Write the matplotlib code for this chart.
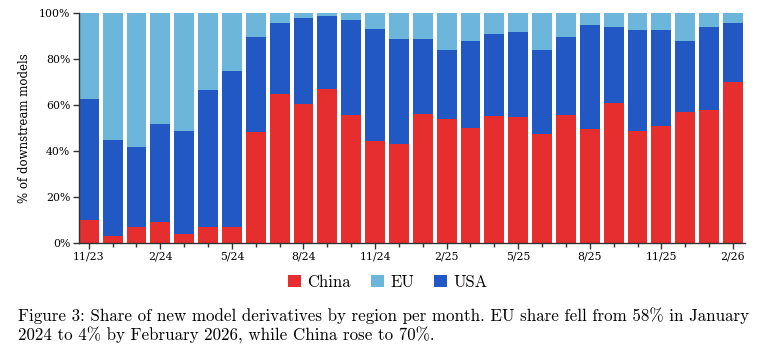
import numpy as np
import matplotlib
matplotlib.use("Agg")
import matplotlib.pyplot as plt
from matplotlib.ticker import PercentFormatter

# monthly share (%) of downstream models, Nov 2023 .. Feb 2026
months = ["11/23", "12/23",
          "1/24", "2/24", "3/24", "4/24", "5/24", "6/24", "7/24", "8/24", "9/24", "10/24", "11/24", "12/24",
          "1/25", "2/25", "3/25", "4/25", "5/25", "6/25", "7/25", "8/25", "9/25", "10/25", "11/25", "12/25",
          "1/26", "2/26"]
china = [10.0, 3.0, 6.8, 9.1, 3.9, 6.8, 6.8, 48.1, 64.6, 60.3, 66.8, 55.5, 44.2, 43.0,
         56.1, 53.8, 50.0, 55.2, 54.6, 47.4, 55.5, 49.4, 60.7, 48.6, 50.9, 57.0, 57.8, 70.0]
usa = [52.5, 41.6, 34.8, 42.5, 44.7, 59.6, 67.8, 41.3, 30.9, 37.4, 31.8, 41.3, 48.7, 45.6,
       32.5, 30.0, 37.7, 35.5, 37.0, 36.4, 33.9, 45.2, 33.1, 43.9, 41.6, 30.7, 36.0, 25.5]
eu = [100 - c - u for c, u in zip(china, usa)]

c_china = "#e62e2e"
c_eu = "#6cb6dc"
c_usa = "#2158c4"

plt.rcParams["axes.unicode_minus"] = False
fig = plt.figure(figsize=(7.68, 3.52), dpi=100)
ax = fig.add_axes([0.1025, 0.31, 0.868, 0.654])

x = np.arange(len(months))
w = 0.83
ax.bar(x, china, w, color=c_china, label="China")
ax.bar(x, usa, w, bottom=china, color=c_usa, label="USA")
ax.bar(x, eu, w, bottom=np.array(china) + np.array(usa), color=c_eu, label="EU")

ax.set_xlim(-0.42, len(months) - 0.48)
ax.set_ylim(0, 100)
ax.yaxis.set_major_formatter(PercentFormatter(decimals=0))
ax.set_yticks([0, 20, 40, 60, 80, 100])
ax.set_xticks(x, minor=True)
ax.set_xticks(x[::3])
ax.set_xticklabels(months[::3])
for lab in ax.get_xticklabels() + ax.get_yticklabels():
    lab.set_family("DejaVu Serif")
    lab.set_fontsize(7.8)
ax.tick_params(which="both", direction="out", color="#333333", length=4, width=1, pad=2)
ax.tick_params(which="minor", length=3)
ax.set_ylabel("% of downstream models", family="DejaVu Serif", fontsize=8.5, labelpad=6)
for s in ["top", "right"]:
    ax.spines[s].set_visible(False)
for s in ["left", "bottom"]:
    ax.spines[s].set_color("#333333")
    ax.spines[s].set_linewidth(1)

h, l = ax.get_legend_handles_labels()
order = [0, 2, 1]
fig.legend([h[i] for i in order], [l[i] for i in order], loc="center",
           bbox_to_anchor=(0.505, 0.198), ncol=3, frameon=False,
           prop={"family": "cmr10", "size": 12}, handlelength=0.75, handleheight=0.75,
           handletextpad=0.4, columnspacing=1.2)

caption = ("Figure 3: Share of new model derivatives by region per month. EU share fell from 58% in January\n"
           "2024 to 4% by February 2026, while China rose to 70%.")
fig.text(0.023, 0.074, caption, family="cmr10", fontsize=12.2, ha="left", va="center",
         linespacing=1.2)

fig.savefig("out.png", dpi=100)
